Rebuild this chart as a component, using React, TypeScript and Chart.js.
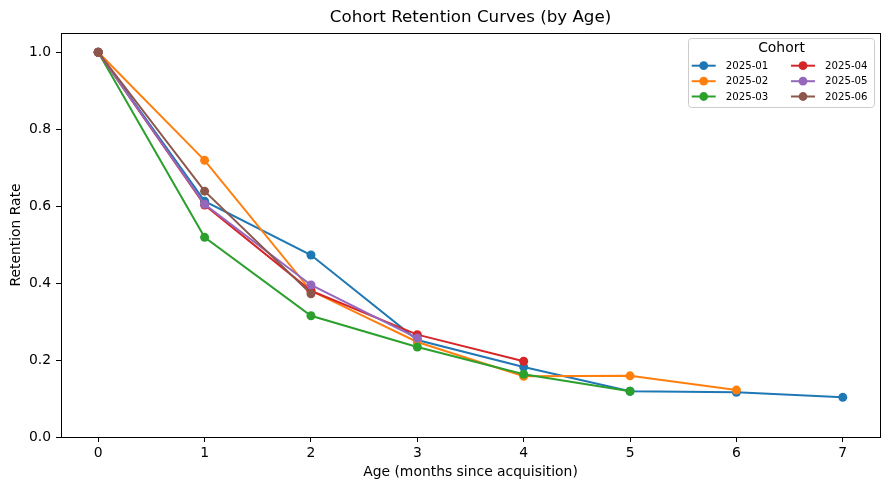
import React, { useEffect, useRef } from "react";
import { Chart, registerables } from "chart.js";

Chart.register(...registerables);

const ages = [0, 1, 2, 3, 4, 5, 6, 7];
const cohorts = ["2025-01", "2025-02", "2025-03", "2025-04", "2025-05", "2025-06"];
const c2025_01 = [1.0, 0.613, 0.473, 0.252, 0.182, 0.119, 0.116, 0.103];
const c2025_02 = [1.0, 0.719, 0.38, 0.247, 0.158, 0.159, 0.122];
const c2025_03 = [1.0, 0.519, 0.315, 0.234, 0.163, 0.119];
const c2025_04 = [1.0, 0.603, 0.38, 0.266, 0.197];
const c2025_05 = [1.0, 0.605, 0.395, 0.257];
const c2025_06 = [1.0, 0.639, 0.372];
const seriesValues = [c2025_01, c2025_02, c2025_03, c2025_04, c2025_05, c2025_06];
const colors = ["#1f77b4", "#ff7f0e", "#2ca02c", "#d62728", "#9467bd", "#8c564b"];
const xTicks = [0, 1, 2, 3, 4, 5, 6, 7];
const yTicks = [0, 0.2, 0.4, 0.6, 0.8, 1.0];

const FONT = "'DejaVu Sans', sans-serif";

const decorPlugin = {
  id: "decor",
  afterDraw(chart: any) {
    const ctx = chart.ctx as CanvasRenderingContext2D;
    const a = chart.chartArea;
    ctx.save();
    // frame
    ctx.strokeStyle = "#000";
    ctx.lineWidth = 1;
    ctx.strokeRect(Math.round(a.left) + 0.5, Math.round(a.top) + 0.5, Math.round(a.right - a.left), Math.round(a.bottom - a.top));
    // title
    ctx.fillStyle = "#000";
    ctx.font = `16.7px ${FONT}`;
    ctx.textAlign = "center";
    ctx.textBaseline = "middle";
    ctx.fillText("Cohort Retention Curves (by Age)", (a.left + a.right) / 2, 18);
    // axis titles
    ctx.font = `13.9px ${FONT}`;
    ctx.fillText("Age (months since acquisition)", (a.left + a.right) / 2, 472);
    ctx.save();
    ctx.translate(16, (a.top + a.bottom) / 2);
    ctx.rotate(-Math.PI / 2);
    ctx.fillText("Retention Rate", 0, 0);
    ctx.restore();

    // legend
    const bx = 688.5, by = 38.5, bw = 186, bh = 69, r = 3;
    ctx.beginPath();
    ctx.moveTo(bx + r, by);
    ctx.lineTo(bx + bw - r, by);
    ctx.quadraticCurveTo(bx + bw, by, bx + bw, by + r);
    ctx.lineTo(bx + bw, by + bh - r);
    ctx.quadraticCurveTo(bx + bw, by + bh, bx + bw - r, by + bh);
    ctx.lineTo(bx + r, by + bh);
    ctx.quadraticCurveTo(bx, by + bh, bx, by + bh - r);
    ctx.lineTo(bx, by + r);
    ctx.quadraticCurveTo(bx, by, bx + r, by);
    ctx.closePath();
    ctx.fillStyle = "rgba(255,255,255,0.8)";
    ctx.fill();
    ctx.strokeStyle = "#cccccc";
    ctx.lineWidth = 1;
    ctx.stroke();

    ctx.fillStyle = "#000";
    ctx.font = `13.9px ${FONT}`;
    ctx.textAlign = "center";
    ctx.textBaseline = "middle";
    ctx.fillText("Cohort", 781.5, 48.5);

    const rowsY = [65.7, 81.2, 96.5];
    const colX = [691.7, 791];
    ctx.font = `10.2px ${FONT}`;
    ctx.textAlign = "left";
    cohorts.forEach((name, i) => {
      const col = Math.floor(i / 3);
      const row = i % 3;
      const x0 = colX[col];
      const y = rowsY[row];
      ctx.strokeStyle = colors[i];
      ctx.lineWidth = 2;
      ctx.beginPath();
      ctx.moveTo(x0, y);
      ctx.lineTo(x0 + 24, y);
      ctx.stroke();
      ctx.fillStyle = colors[i];
      ctx.beginPath();
      ctx.arc(x0 + 12, y, 4.4, 0, Math.PI * 2);
      ctx.fill();
      ctx.fillStyle = "#000";
      ctx.fillText(name, x0 + 34, y + 0.5);
    });
    ctx.restore();
  },
};

export default function App() {
  const ref = useRef<HTMLCanvasElement | null>(null);
  useEffect(() => {
    if (!ref.current) return;
    const datasets = cohorts.map((name, i) => ({
      label: name,
      data: seriesValues[i].map((v, j) => ({ x: ages[j], y: v })),
      borderColor: colors[i],
      backgroundColor: colors[i],
      borderWidth: 2,
      pointRadius: 4.5,
      pointHoverRadius: 4.5,
      pointBorderWidth: 0,
      pointBackgroundColor: colors[i],
      tension: 0,
      order: cohorts.length - 1 - i,
      clip: false as any,
    }));
    const chart = new Chart(ref.current, {
      type: "line",
      data: { datasets },
      options: {
        animation: false,
        responsive: false,
        devicePixelRatio: 1,
        layout: { padding: { left: 0, right: 9, top: 33, bottom: 0 } },
        plugins: {
          legend: { display: false },
          title: { display: false },
          tooltip: { enabled: false },
        },
        scales: {
          x: {
            type: "linear",
            min: -0.35,
            max: 7.35,
            afterBuildTicks: (s: any) => {
              s.ticks = xTicks.map((v) => ({ value: v }));
            },
            afterFit: (s: any) => {
              s.height = 53;
            },
            ticks: {
              color: "#000",
              font: { family: FONT, size: 13.9 },
              padding: 3,
              maxRotation: 0,
              callback: (v: any) => String(v),
            },
            grid: { drawOnChartArea: false, drawTicks: true, tickLength: 5, color: "#000" },
            border: { display: true, color: "#000" },
          },
          y: {
            type: "linear",
            min: 0,
            max: 1.05,
            afterBuildTicks: (s: any) => {
              s.ticks = yTicks.map((v) => ({ value: v }));
            },
            afterFit: (s: any) => {
              s.width = 61;
            },
            ticks: {
              color: "#000",
              font: { family: FONT, size: 13.9 },
              padding: 5,
              callback: (v: any) => Number(v).toFixed(1),
            },
            grid: { drawOnChartArea: false, drawTicks: true, tickLength: 5, color: "#000" },
            border: { display: true, color: "#000" },
          },
        },
      },
      plugins: [decorPlugin],
    });
    return () => chart.destroy();
  }, []);
  return (
    <div style={{ position: "fixed", left: 0, top: 0, width: 889, height: 490, background: "#fff" }}>
      <canvas ref={ref} width={889} height={490} style={{ width: 889, height: 490, display: "block" }} />
    </div>
  );
}
